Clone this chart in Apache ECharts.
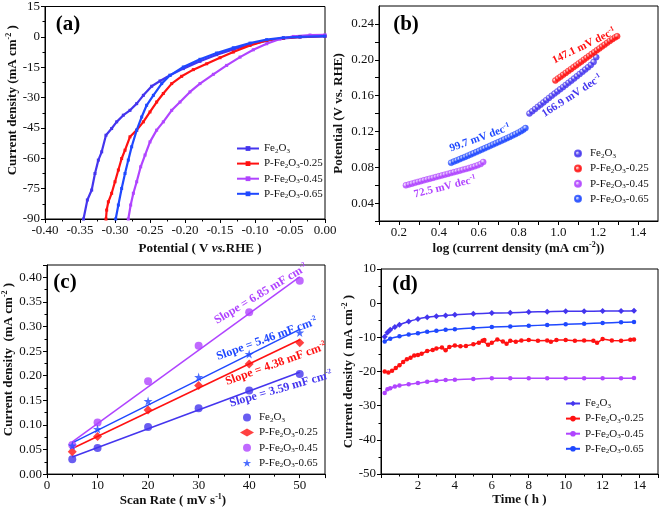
<!DOCTYPE html>
<html>
<head>
<meta charset="utf-8">
<script src="https://cdn.jsdelivr.net/npm/echarts@6/dist/echarts.min.js"></script>
<style>
html,body{margin:0;padding:0;background:#fff;}
#c{width:661px;height:508px;}
</style>
</head>
<body>
<div id="c"></div>
<script>
// ---------- DATA ----------
const seriesNames = ['Fe2O3', 'P-Fe2O3-0.25', 'P-Fe2O3-0.45', 'P-Fe2O3-0.65'];
const colors = ['#4435ee', '#ff1111', '#b044ff', '#1f48ff'];

// (a) LSV: [potential V vs RHE, current density mA cm-2]
const lsvFe = [[-0.345,-90],[-0.3395,-80.6],[-0.3333,-75.7],[-0.3286,-67.5],[-0.3238,-60.9],[-0.319,-56.8],[-0.3129,-48.6],[-0.3048,-45.3],[-0.2976,-42.0],[-0.2881,-38.7],[-0.2786,-36.3],[-0.269,-33.0],[-0.2595,-28.9],[-0.2476,-24.4],[-0.2357,-21.8],[-0.2214,-19.0],[-0.2024,-15.7],[-0.1786,-12.1],[-0.1548,-8.8],[-0.131,-6.2],[-0.1071,-3.9],[-0.0833,-1.9],[-0.0595,-0.8],[-0.0357,-0.1],[0,0.2]];
const lsv25 = [[-0.3129,-90],[-0.3119,-85.6],[-0.3095,-81.5],[-0.3048,-77.3],[-0.3,-71.6],[-0.2952,-65.8],[-0.2905,-60.1],[-0.2857,-56.0],[-0.2786,-49.4],[-0.269,-46.1],[-0.2595,-42.0],[-0.25,-37.1],[-0.2405,-32.2],[-0.231,-28.0],[-0.219,-23.1],[-0.2048,-19.5],[-0.1881,-16.2],[-0.169,-13.3],[-0.15,-10.3],[-0.131,-7.5],[-0.1071,-4.2],[-0.0833,-1.8],[-0.0595,-0.6],[-0.0357,0.0],[0,0.5]];
const lsv45 = [[-0.281,-90],[-0.2776,-83.1],[-0.2738,-77.3],[-0.269,-71.6],[-0.2633,-64.2],[-0.2571,-58.4],[-0.25,-51.9],[-0.2405,-46.1],[-0.231,-42.0],[-0.219,-36.3],[-0.2071,-32.2],[-0.1929,-27.2],[-0.1786,-23.1],[-0.1595,-18.5],[-0.1405,-14.1],[-0.1214,-10.0],[-0.1024,-6.4],[-0.0833,-3.4],[-0.0643,-1.1],[-0.0452,0.2],[-0.0214,0.9],[0,1.0]];
const lsv65 = [[-0.299,-90],[-0.2952,-83.1],[-0.2905,-74.9],[-0.2857,-67.5],[-0.281,-60.9],[-0.2762,-54.3],[-0.269,-46.1],[-0.2619,-39.6],[-0.2548,-33.8],[-0.2452,-28.9],[-0.2333,-23.1],[-0.2214,-19.0],[-0.2024,-14.9],[-0.1786,-11.1],[-0.1548,-8.0],[-0.131,-5.4],[-0.1071,-3.1],[-0.0833,-1.4],[-0.0595,-0.4],[-0.0357,0.0],[0,0.4]];

// (b) Tafel: [log j, potential V]
const tafFe = [[0.855,0.1400],[0.869,0.1425],[0.883,0.1449],[0.897,0.1474],[0.911,0.1499],[0.925,0.1524],[0.939,0.1549],[0.953,0.1574],[0.967,0.1598],[0.981,0.1622],[0.995,0.1646],[1.009,0.1670],[1.023,0.1694],[1.037,0.1718],[1.051,0.1742],[1.065,0.1766],[1.079,0.1790],[1.093,0.1815],[1.107,0.1840],[1.121,0.1865],[1.135,0.1890],[1.149,0.1915],[1.163,0.1942],[1.177,0.1975],[1.190,0.2028]];
const taf25 = [[0.985,0.1768],[0.998,0.1790],[1.011,0.1811],[1.024,0.1832],[1.037,0.1853],[1.050,0.1874],[1.063,0.1895],[1.076,0.1916],[1.089,0.1937],[1.102,0.1958],[1.115,0.1979],[1.128,0.2000],[1.141,0.2021],[1.154,0.2042],[1.167,0.2063],[1.180,0.2084],[1.193,0.2105],[1.206,0.2126],[1.219,0.2147],[1.232,0.2168],[1.245,0.2189],[1.258,0.2210],[1.271,0.2230],[1.284,0.2248],[1.295,0.2262]];
const taf45 = [[0.235,0.0598],[0.250,0.0607],[0.265,0.0617],[0.280,0.0626],[0.295,0.0636],[0.310,0.0645],[0.325,0.0654],[0.340,0.0663],[0.355,0.0672],[0.370,0.0681],[0.385,0.0690],[0.400,0.0699],[0.415,0.0708],[0.430,0.0717],[0.445,0.0726],[0.460,0.0735],[0.475,0.0744],[0.490,0.0753],[0.505,0.0762],[0.520,0.0771],[0.535,0.0780],[0.550,0.0790],[0.565,0.0800],[0.580,0.0810],[0.595,0.0822],[0.610,0.0836],[0.623,0.0858]];
const taf65 = [[0.462,0.0850],[0.476,0.0863],[0.490,0.0876],[0.504,0.0889],[0.518,0.0902],[0.532,0.0915],[0.546,0.0929],[0.560,0.0942],[0.574,0.0955],[0.588,0.0969],[0.602,0.0983],[0.616,0.0997],[0.630,0.1011],[0.644,0.1025],[0.658,0.1039],[0.672,0.1053],[0.686,0.1067],[0.700,0.1081],[0.714,0.1095],[0.728,0.1109],[0.742,0.1124],[0.756,0.1139],[0.770,0.1154],[0.784,0.1169],[0.798,0.1185],[0.812,0.1202],[0.824,0.1220],[0.835,0.1237]];

// (c) double-layer capacitance: scan rate (mV/s) vs current density
const scanRates = [5, 10, 20, 30, 40, 50];
const cdlFe = [0.030, 0.053, 0.0957, 0.1338, 0.1699, 0.2033];
const cdl25 = [0.0455, 0.0763, 0.1304, 0.180, 0.224, 0.267];
const cdl45 = [0.0589, 0.105, 0.1886, 0.261, 0.329, 0.393];
const cdl65 = [0.058, 0.0916, 0.1485, 0.1973, 0.244, 0.2876];
const fitX = [5, 50];
const fitFe = [0.0348, 0.207];
const fit25 = [0.052, 0.273];
const fit45 = [0.0656, 0.401];
const fit65 = [0.0635, 0.294];
const slopeLabels = ['3.59', '4.38', '6.85', '5.46'];

// (d) stability: time (h) vs current density
const stFe = [[0.2,-9.8],[0.35,-8.6],[0.5,-7.8],[0.75,-7.0],[1.0,-6.3],[1.5,-5.4],[2.0,-4.6],[2.5,-4.1],[3.0,-3.8],[3.5,-3.6],[4,-3.4],[5,-3.1],[6,-2.9],[7,-2.8],[8,-2.6],[9,-2.5],[10,-2.4],[11,-2.4],[12,-2.3],[13,-2.3],[13.7,-2.2]];
const st25 = [[0.2,-20.0],[0.4,-20.3],[0.6,-19.8],[0.8,-19.0],[1.0,-18.2],[1.2,-17.2],[1.4,-16.4],[1.6,-16.0],[1.8,-15.3],[2.0,-15.2],[2.2,-14.8],[2.5,-14.0],[2.8,-13.7],[3.0,-13.3],[3.3,-13.0],[3.5,-13.8],[3.7,-12.8],[4.0,-12.4],[4.3,-12.6],[4.6,-12.5],[5.0,-12.0],[5.3,-11.6],[5.5,-11.0],[5.6,-10.8],[5.8,-12.2],[6.0,-11.6],[6.3,-10.6],[6.6,-11.2],[6.8,-11.9],[7.0,-11.0],[7.3,-11.3],[7.6,-10.9],[8.0,-10.8],[8.5,-11.0],[9.0,-10.9],[9.2,-11.3],[9.5,-10.8],[10.0,-10.8],[10.5,-11.0],[11.0,-10.9],[11.5,-11.0],[11.7,-11.6],[12.0,-10.5],[12.5,-10.9],[13.0,-11.0],[13.5,-10.7],[13.7,-10.6]];
const st45 = [[0.2,-26.3],[0.35,-25.2],[0.5,-24.9],[0.75,-24.4],[1.0,-24.1],[1.5,-23.7],[2,-23.4],[2.5,-23.0],[3,-22.7],[3.5,-22.5],[4,-22.4],[5,-22.2],[6,-22.0],[7,-22.0],[8,-22.0],[9,-22.0],[10,-22.0],[11,-22.0],[12,-22.0],[13,-22.0],[13.7,-21.9]];
const st65 = [[0.2,-11.2],[0.5,-10.4],[1.0,-9.7],[1.5,-9.2],[2,-8.8],[2.5,-8.4],[3,-8.1],[3.5,-7.8],[4,-7.6],[5,-7.3],[6,-7.0],[7,-6.8],[8,-6.6],[9,-6.4],[10,-6.2],[11,-6.0],[12,-5.8],[13,-5.6],[13.7,-5.5]];

// ---------- CHART ----------
const FONT = 'Liberation Serif';
const chart = echarts.init(document.getElementById('c'), null, {renderer: 'canvas'});

const richSub = {
  n: {fontFamily: FONT, fontSize: 11, color: '#111', lineHeight: 12},
  s: {fontFamily: FONT, fontSize: 7, color: '#111', lineHeight: 6, verticalAlign: 'bottom'}
};
function legendLabel(name) {
  const base = name.split('#')[0];
  if (base === 'Fe2O3') return '{n|Fe}{s|2}{n|O}{s|3}';
  return '{n|P-Fe}{s|2}{n|O}{s|3}{n|' + base.slice(7) + '}';
}
const nameRich = {
  b: {fontFamily: FONT, fontSize: 13, fontWeight: 'bold', color: '#111', lineHeight: 15},
  i: {fontFamily: FONT, fontSize: 13, fontWeight: 'bold', fontStyle: 'italic', color: '#111', lineHeight: 15},
  sup: {fontFamily: FONT, fontSize: 8, fontWeight: 'bold', color: '#111', lineHeight: 8, verticalAlign: 'top'}
};

function axisCommon(extra) {
  return Object.assign({
    type: 'value',
    axisLine: {show: true, onZero: false, lineStyle: {color: '#000', width: 1}},
    axisTick: {show: true, inside: false, length: 4, lineStyle: {color: '#000'}},
    minorTick: {show: true, splitNumber: 2, length: 2.5, lineStyle: {color: '#000'}},
    splitLine: {show: false},
    axisLabel: {fontFamily: FONT, fontSize: 13, color: '#111', margin: 5},
    nameLocation: 'middle',
    nameTextStyle: {rich: nameRich}
  }, extra);
}
function keepEvery(step, decimals, minShow) {
  return function (v) {
    const r = Math.round(v / step);
    if (Math.abs(v - r * step) > 1e-6) return '';
    if (minShow !== undefined && v < minShow - 1e-9) return '';
    return v.toFixed(decimals);
  };
}

const grids = [
  {left: 45, top: 6, width: 280, height: 213},
  {left: 379, top: 6, width: 279, height: 215},
  {left: 44, top: 265, width: 281, height: 212},
  {left: 381, top: 269, width: 277, height: 205}
].map(g => Object.assign({show: true, borderColor: '#000', borderWidth: 1, backgroundColor: 'transparent'}, g));

const xAxis = [
  axisCommon({gridIndex: 0, min: -0.4, max: 0, interval: 0.05,
    axisLabel: {fontFamily: FONT, fontSize: 13, color: '#111', margin: 5, formatter: v => v.toFixed(2)},
    name: '{b|Potential ( V }{i|vs.}{b|RHE )}', nameGap: 22,
    nameTextStyle: {rich: nameRich, padding: [0, 0, 0, 30]}}),
  axisCommon({gridIndex: 1, min: 0.1, max: 1.5, interval: 0.1,
    minorTick: {show: false},
    axisLabel: {fontFamily: FONT, fontSize: 13, color: '#111', margin: 5, formatter: keepEvery(0.2, 1, 0.2), showMaxLabel: false},
    name: '{b|log (current density (mA cm}{sup|-2}{b|))}', nameGap: 20}),
  axisCommon({gridIndex: 2, min: 0, max: 55, interval: 10,
    axisLabel: {fontFamily: FONT, fontSize: 13, color: '#111', margin: 5, showMaxLabel: false},
    name: '{b|Scan Rate ( mV s}{sup|-1}{b|)}', nameGap: 16,
    nameTextStyle: {rich: nameRich, padding: [0, 26, 0, 0]}}),
  axisCommon({gridIndex: 3, min: 0, max: 15, interval: 2,
    axisLabel: {fontFamily: FONT, fontSize: 13, color: '#111', margin: 5, formatter: v => (v === 0 ? '' : String(v)), showMaxLabel: false},
    name: '{b|Time ( h )}', nameGap: 18})
];
const yAxis = [
  axisCommon({gridIndex: 0, min: -90, max: 15, interval: 15,
    name: '{b|Current density (mA cm}{sup|-2}{b| )}', nameGap: 24,
    nameTextStyle: {rich: nameRich, padding: [0, 0, 0, 25]}}),
  axisCommon({gridIndex: 1, min: 0.02, max: 0.26, interval: 0.02,
    minorTick: {show: false},
    axisLabel: {fontFamily: FONT, fontSize: 13, color: '#111', margin: 5, formatter: keepEvery(0.04, 2, 0.04), showMaxLabel: false},
    name: '{b|Potential (V vs. RHE)}', nameGap: 33}),
  axisCommon({gridIndex: 2, min: 0, max: 0.425, interval: 0.05,
    axisLabel: {fontFamily: FONT, fontSize: 13, color: '#111', margin: 5, formatter: keepEvery(0.05, 2), showMaxLabel: false},
    name: '{b|Current density  (mA cm}{sup|-2}{b| )}', nameGap: 31,
    nameTextStyle: {rich: nameRich, padding: [0, 0, 0, 20]}}),
  axisCommon({gridIndex: 3, min: -50, max: 10, interval: 10,
    name: '{b|Current density ( mA cm}{sup|-2}{b| )}', nameGap: 23})
];

function sphere(c) {
  return {type: 'radial', x: 0.35, y: 0.35, r: 0.75,
    colorStops: [{offset: 0, color: '#ffffff'}, {offset: 0.45, color: c}, {offset: 1, color: c}]};
}

const series = [];
// (a)
[lsvFe, lsv25, lsv45, lsv65].forEach((d, i) => {
  series.push({name: seriesNames[i] + '#a', type: 'line', xAxisIndex: 0, yAxisIndex: 0, data: d,
    symbol: 'rect', symbolSize: 3, showAllSymbol: true,
    lineStyle: {color: colors[i], width: 2.2}, itemStyle: {color: colors[i]}, z: i === 3 ? 3 : 2});
});
// (b)
[tafFe, taf25, taf45, taf65].forEach((d, i) => {
  series.push({name: seriesNames[i] + '#b', type: 'scatter', xAxisIndex: 1, yAxisIndex: 1, data: d,
    symbol: 'circle', symbolSize: 6, itemStyle: {color: sphere(colors[i]), borderColor: colors[i], borderWidth: 0.5}});
});
// (c)
const starPath = 'path://M50,0 L61,35 L98,35 L68,57 L79,91 L50,70 L21,91 L32,57 L2,35 L39,35 Z';
const cSymbols = ['circle', 'diamond', 'circle', starPath];
const cSizes = [8, 9, 8, 9];
[cdlFe, cdl25, cdl45, cdl65].forEach((d, i) => {
  series.push({name: seriesNames[i] + '#c', type: 'scatter', xAxisIndex: 2, yAxisIndex: 2,
    data: scanRates.map((s, k) => [s, d[k]]),
    symbol: cSymbols[i], symbolSize: cSizes[i], itemStyle: {color: colors[i]}, z: 3});
});
[fitFe, fit25, fit45, fit65].forEach((d, i) => {
  series.push({name: 'fit' + i, type: 'line', xAxisIndex: 2, yAxisIndex: 2,
    data: fitX.map((s, k) => [s, d[k]]), symbol: 'none',
    lineStyle: {color: colors[i], width: 1.5}, z: 2});
});
// (d)
const dSymbols = ['diamond', 'circle', 'circle', 'circle'];
[stFe, st25, st45, st65].forEach((d, i) => {
  series.push({name: seriesNames[i] + '#d', type: 'line', xAxisIndex: 3, yAxisIndex: 3, data: d,
    symbol: dSymbols[i], symbolSize: i === 0 ? 6 : 4.5, showAllSymbol: true, smooth: i !== 1 ? 0.3 : false,
    lineStyle: {color: colors[i], width: 1.5}, itemStyle: {color: colors[i]}});
});

function mkLegend(tag, left, top, iw, ih) {
  return {
    orient: 'vertical', left: left, top: top, itemWidth: iw, itemHeight: ih, itemGap: 3.6,
    padding: 0, selectedMode: false,
    data: seriesNames.map(n => n + '#' + tag),
    formatter: legendLabel,
    textStyle: {fontFamily: FONT, fontSize: 11, color: '#111', rich: richSub}
  };
}
const legend = [
  mkLegend('a', 236, 143, 22, 6),
  mkLegend('b', 574, 148, 14, 6),
  mkLegend('c', 240, 412, 14, 8),
  mkLegend('d', 565, 398, 14, 7)
];

// annotations
function ann(text, sup, color, x, y, deg, size) {
  const fs = size || 13;
  const rich = {
    t: {fontFamily: FONT, fontSize: fs, fontWeight: 'bold', fill: color, color: color, lineHeight: fs + 2},
    u: {fontFamily: FONT, fontSize: 7, fontWeight: 'bold', fill: color, color: color, lineHeight: 7, verticalAlign: 'top'}
  };
  return {type: 'text', x: x, y: y, rotation: deg * Math.PI / 180, z: 10,
    style: {text: '{t|' + text + '}{u|' + sup + '}', rich: rich, align: 'center', verticalAlign: 'middle', fill: color}};
}
function panelLabel(t, x, y) {
  return {type: 'text', x: x, y: y, z: 10,
    style: {text: t, fontFamily: FONT, fontSize: 21, fontWeight: 'bold', fill: '#000', align: 'center', verticalAlign: 'middle'}};
}
const graphic = [
  panelLabel('(a)', 68, 25), panelLabel('(b)', 406, 25), panelLabel('(c)', 65, 283), panelLabel('(d)', 405, 285),
  ann('147.1 mV dec', '-1', colors[1], 584, 46, 26, 11),
  ann('166.9 mV dec', '-1', colors[0], 572, 96, 33, 11),
  ann('99.7 mV dec', '-1', colors[3], 480, 138, 20, 11),
  ann('72.5 mV dec', '-1', colors[2], 445, 187, 14, 11),
  ann('Slope = ' + slopeLabels[2] + ' mF cm', '-2', colors[2], 261, 294, 31, 12),
  ann('Slope = ' + slopeLabels[3] + ' mF cm', '-2', colors[3], 267, 339, 20, 12),
  ann('Slope = ' + slopeLabels[1] + ' mF cm', '-2', colors[1], 276, 364, 20, 12),
  ann('Slope = ' + slopeLabels[0] + ' mF cm', '-2', colors[0], 281, 389, 16, 12)
];

chart.setOption({
  animation: false,
  backgroundColor: '#fff',
  grid: grids, xAxis: xAxis, yAxis: yAxis, series: series, legend: legend, graphic: graphic
});
</script>
</body>
</html>
